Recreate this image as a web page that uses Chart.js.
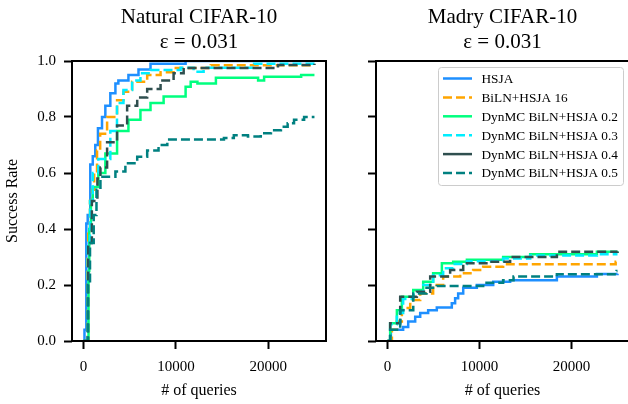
<!DOCTYPE html>
<html><head><meta charset="utf-8">
<script src="https://cdn.jsdelivr.net/npm/chart.js@4.4.0/dist/chart.umd.min.js"></script>
<style>
html,body{margin:0;padding:0;background:#fff;overflow:hidden;width:628px;height:404px;}
#wrapL{position:absolute;left:0;top:0;width:340px;height:404px;}
#wrapR{position:absolute;left:340px;top:0;width:292px;height:404px;}
canvas{display:block;}
</style></head><body>
<div id="wrapL"><canvas id="cL" width="340" height="404"></canvas></div>
<div id="wrapR"><canvas id="cR" width="292" height="404"></canvas></div>
<script>
// ---------- data ----------
const seriesNames = ['HSJA','BiLN+HSJA 16','DynMC BiLN+HSJA 0.2','DynMC BiLN+HSJA 0.3','DynMC BiLN+HSJA 0.4','DynMC BiLN+HSJA 0.5'];
const naturalTitle = ['Natural CIFAR-10', 'ε = 0.031'];
const madryTitle = ['Madry CIFAR-10', 'ε = 0.031'];
const xTickValues = [0, 10000, 20000];
const yTickValues = [0, 0.2, 0.4, 0.6, 0.8, 1.0];
const xAxisLabel = '# of queries';
const yAxisLabel = 'Success Rate';

// Natural CIFAR-10
const natHsjaQ = [0,100,300,450,730,1000,1270,1560,2000,2360,2900,3450,3770,4860,5950,7250,11050,25000];
const natHsjaR = [0,0.04,0.42,0.45,0.63,0.66,0.70,0.76,0.80,0.84,0.885,0.92,0.93,0.95,0.97,0.99,1.0,1.0];
const natBilnQ = [0,400,500,700,920,1150,1460,1800,2550,3630,4320,5260,6890,8340,9750,13780,25000];
const natBilnR = [0,0.30,0.40,0.50,0.54,0.60,0.68,0.74,0.80,0.86,0.89,0.926,0.95,0.96,0.975,0.985,0.985];
const natDyn02Q = [0,540,620,800,1000,1600,2360,3630,4860,6160,7250,8670,11050,11600,12330,14330,18900,19550,23560,25000];
const natDyn02R = [0,0.25,0.40,0.50,0.55,0.60,0.67,0.75,0.79,0.825,0.85,0.873,0.908,0.926,0.92,0.94,0.93,0.944,0.95,0.95];
const natDyn03Q = [0,450,700,1000,1600,2900,3620,4320,5260,6160,7250,10510,11920,13000,18460,25000];
const natDyn03R = [0,0.35,0.50,0.60,0.65,0.75,0.85,0.896,0.93,0.956,0.968,0.976,0.962,0.976,0.99,0.99];
const natDyn04Q = [0,500,900,1500,1830,2550,3630,4720,5810,6890,8340,9750,10840,21050,25000];
const natDyn04R = [0,0.35,0.50,0.58,0.62,0.71,0.77,0.84,0.87,0.90,0.93,0.956,0.975,0.986,0.99];
const natDyn05Q = [0,450,700,1100,1400,1830,3450,4530,5810,6890,8120,9070,15200,16270,17800,19190,20290,21370,22100,22790,23880,25000];
const natDyn05R = [0,0.20,0.35,0.45,0.54,0.587,0.605,0.635,0.658,0.68,0.70,0.72,0.725,0.735,0.73,0.742,0.753,0.765,0.778,0.79,0.80,0.80];

// Madry CIFAR-10
const madHsjaQ = [0,370,1700,2250,3010,3555,4420,5360,6990,7350,7680,8230,9710,11490,13330,18410,22760,25000];
const madHsjaR = [0,0.04,0.05,0.07,0.087,0.10,0.11,0.12,0.135,0.153,0.17,0.19,0.20,0.212,0.217,0.23,0.239,0.24];
const madBilnQ = [0,480,1020,1560,2470,3555,4960,6050,7900,9310,10400,12570,24800,25000];
const madBilnR = [0,0.04,0.07,0.118,0.146,0.17,0.20,0.23,0.242,0.254,0.265,0.274,0.283,0.283];
const madDyn02Q = [0,290,1020,1560,2800,3880,4960,5910,7140,8630,12570,15510,22760,25000];
const madDyn02R = [0,0.063,0.11,0.158,0.182,0.212,0.242,0.278,0.283,0.29,0.30,0.31,0.319,0.32];
const madDyn03Q = [0,290,1020,1700,2800,3880,4960,6050,7140,8630,12570,15510,22760,25000];
const madDyn03R = [0,0.06,0.10,0.15,0.175,0.20,0.235,0.26,0.275,0.285,0.295,0.305,0.31,0.31];
const madDyn04Q = [0,290,1380,3190,4640,6810,8230,10900,13330,18410,25000];
const madDyn04R = [0,0.063,0.158,0.176,0.23,0.254,0.278,0.283,0.30,0.319,0.32];
const madDyn05Q = [0,290,1380,2800,4240,5360,10400,12570,13700,18410,24900,25000];
const madDyn05R = [0,0.04,0.11,0.17,0.19,0.196,0.208,0.217,0.23,0.238,0.25,0.25];

// ---------- styles ----------
const colors = ['#1e8fff','#ffa500','#00ff7f','#00eeff','#2f4f4f','#008080'];
const plotDash = [[], [9,4], [], [9,4], [9,4], [9,4]];
const legendDash = [[], [9,4], [], [9,4], [], [9,4]];
const SERIF = '"Liberation Serif", "Times New Roman", serif';

function pts(q, r) { return q.map((v, i) => ({x: v, y: r[i]})); }

function makeDatasets(list) {
  return list.map((pair, i) => ({
    label: seriesNames[i],
    data: pts(pair[0], pair[1]),
    borderColor: colors[i],
    backgroundColor: colors[i],
    borderWidth: 2.5,
    borderDash: plotDash[i],
    pointRadius: 0,
    stepped: 'before',
    fill: false,
    order: list.length - i
  }));
}

const framePlugin = {
  id: 'frame',
  afterDraw(chart, args, opts) {
    const ctx = chart.ctx, a = chart.chartArea;
    ctx.save();
    ctx.strokeStyle = '#000';
    ctx.lineWidth = 2;
    ctx.beginPath();
    ctx.moveTo(a.right + 1, a.top);
    ctx.lineTo(a.left, a.top);
    ctx.lineTo(a.left, a.bottom);
    ctx.lineTo(a.right + 1, a.bottom);
    if (opts.rightSpine) { ctx.moveTo(a.right, a.top); ctx.lineTo(a.right, a.bottom); }
    ctx.stroke();
    // titles
    ctx.fillStyle = '#000';
    ctx.textAlign = 'center';
    ctx.textBaseline = 'alphabetic';
    ctx.font = '21px ' + SERIF;
    const cx = (a.left + a.right) / 2;
    ctx.fillText(opts.title[0], cx, 23);
    ctx.fillText(opts.title[1], cx, 48);
    // legend
    if (opts.legend) {
      const bx = a.right - 191, by = a.top + 6, bw = 185, bh = 118;
      ctx.fillStyle = 'rgba(255,255,255,0.8)';
      ctx.strokeStyle = '#cccccc';
      ctx.lineWidth = 1;
      ctx.beginPath();
      ctx.roundRect(bx + 0.5, by + 0.5, bw, bh, 3);
      ctx.fill(); ctx.stroke();
      ctx.font = '13.3px ' + SERIF;
      ctx.textAlign = 'left';
      ctx.textBaseline = 'middle';
      seriesNames.forEach((name, i) => {
        const y = by + 11.5 + i * 18.9;
        ctx.strokeStyle = colors[i];
        ctx.lineWidth = 2.5;
        ctx.setLineDash(legendDash[i]);
        ctx.beginPath();
        ctx.moveTo(bx + 5, y); ctx.lineTo(bx + 34, y);
        ctx.stroke();
        ctx.setLineDash([]);
        ctx.fillStyle = '#000';
        ctx.fillText(name, bx + 43.5, y + 1);
      });
    }
    ctx.restore();
  }
};

function makeChart(id, datasets, opts) {
  return new Chart(document.getElementById(id), {
    type: 'line',
    data: { datasets },
    plugins: [framePlugin],
    options: {
      responsive: false,
      animation: false,
      devicePixelRatio: 1,
      layout: { padding: { left: 0, top: 61, right: opts.padRight, bottom: 0 } },
      plugins: {
        legend: { display: false },
        tooltip: { enabled: false },
        title: { display: false },
        frame: { title: opts.title, legend: opts.legend, rightSpine: opts.rightSpine }
      },
      scales: {
        x: {
          type: 'linear', min: -1250, max: 26250,
          afterBuildTicks: s => { s.ticks = xTickValues.map(v => ({value: v})); },
          afterFit: s => { s.height = 63; },
          ticks: { callback: v => String(v), color: '#000', font: { family: SERIF, size: 15 }, padding: 9, maxRotation: 0, autoSkip: false },
          grid: { drawOnChartArea: false, drawTicks: true, tickLength: 8, tickWidth: 2, tickColor: '#000', color: '#000' },
          border: { display: false },
          title: { display: true, text: xAxisLabel, color: '#000', font: { family: SERIF, size: 16 }, padding: { top: 0, bottom: 4 } }
        },
        y: {
          type: 'linear', min: 0, max: 1,
          afterBuildTicks: s => { s.ticks = yTickValues.map(v => ({value: v})); },
          afterFit: s => { s.width = opts.yWidth; },
          ticks: { callback: v => opts.yLabels ? v.toFixed(1) : '', color: '#000', font: { family: SERIF, size: 15 }, padding: 8, autoSkip: false },
          grid: { drawOnChartArea: false, drawTicks: true, tickLength: 8, tickWidth: 2, tickColor: '#000', color: '#000' },
          border: { display: false },
          title: { display: opts.yLabels, text: yAxisLabel, color: '#000', font: { family: SERIF, size: 16 }, padding: { top: 3, bottom: 0 } }
        }
      }
    }
  });
}

makeChart('cL', makeDatasets([
  [natHsjaQ, natHsjaR], [natBilnQ, natBilnR], [natDyn02Q, natDyn02R],
  [natDyn03Q, natDyn03R], [natDyn04Q, natDyn04R], [natDyn05Q, natDyn05R]
]), { padRight: 14, yWidth: 72, yLabels: true, title: naturalTitle, legend: false, rightSpine: true });

makeChart('cR', makeDatasets([
  [madHsjaQ, madHsjaR], [madBilnQ, madBilnR], [madDyn02Q, madDyn02R],
  [madDyn03Q, madDyn03R], [madDyn04Q, madDyn04R], [madDyn05Q, madDyn05R]
]), { padRight: 3, yWidth: 36, yLabels: false, title: madryTitle, legend: true, rightSpine: false });
</script>
</body></html>
